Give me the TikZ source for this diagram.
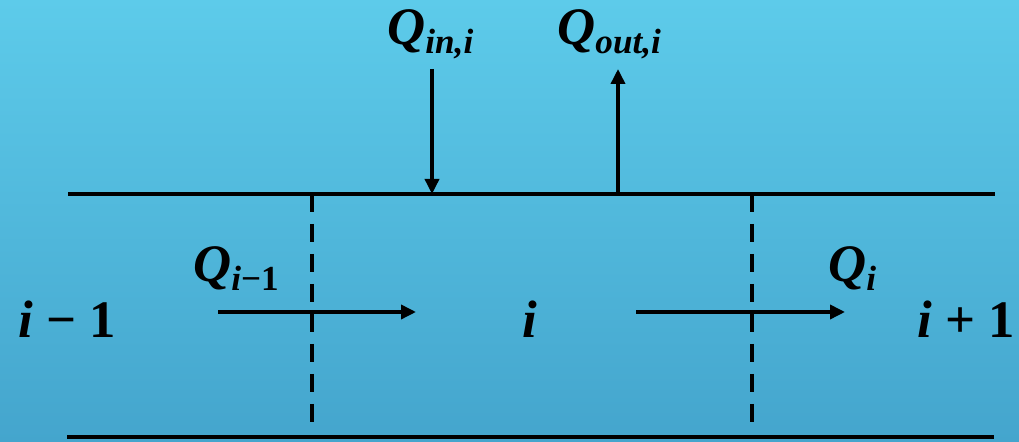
\documentclass[tikz,border=0pt]{standalone}
\usepackage{fontspec}
\setmainfont{Liberation Serif}
\usetikzlibrary{arrows.meta}
\definecolor{skytop}{HTML}{5DCBEA}
\definecolor{skybottom}{HTML}{44A5CD}
% lowered, smaller text for the subscripts
\newcommand{\lowtxt}[1]{\raisebox{-0.34ex}{\fontsize{20}{22}\selectfont #1}}
\tikzset{
  wall/.style={line width=2.4pt, black},
  cell border/.style={line width=2.3pt, black, dash pattern=on 0.36cm off 0.24cm},
  flow/.style={-{Triangle[length=0.3cm, width=0.28cm]}, line width=2pt, black},
  qlabel/.style={font=\fontsize{30}{32}\selectfont\bfseries\itshape, inner sep=0pt, anchor=base west},
  cell label/.style={font=\fontsize{30}{32}\selectfont\bfseries, inner sep=0pt, anchor=base}
}
\begin{document}
\begin{tikzpicture}

  %% ---- background ----
  \fill[top color=skytop, bottom color=skybottom] (0,0) rectangle (20.38,8.84);

  %% ---- pipe walls ----
  \coordinate (TL) at (1.36, 4.96);
  \coordinate (TR) at (19.90, 4.96);
  \coordinate (BL) at (1.34, 0.10);
  \coordinate (BR) at (19.88, 0.10);
  \draw[wall] (TL) -- (TR);
  \draw[wall] (BL) -- (BR);

  %% ---- cell borders (dashed) ----
  \coordinate (D1t) at (6.24, 4.96);
  \coordinate (D1b) at (6.24, 0.32);
  \coordinate (D2t) at (15.04, 4.96);
  \coordinate (D2b) at (15.04, 0.32);
  \draw[cell border] (D1t) -- (D1b);
  \draw[cell border] (D2t) -- (D2b);

  %% ---- lateral in/out flows ----
  \node[qlabel] (Qin)  at (7.74, 7.94) {Q\lowtxt{in,i}};
  \node[qlabel] (Qout) at (11.14, 7.94) {Q\lowtxt{out,i}};
  \coordinate (inTop)  at (8.64, 7.46);
  \coordinate (inBot)  at (8.64, 4.96);
  \coordinate (outBot) at (12.36, 4.96);
  \coordinate (outTop) at (12.36, 7.46);
  \draw[flow] (inTop) -- (inBot);
  \draw[flow] (outBot) -- (outTop);

  %% ---- axial flows ----
  \node[qlabel] (Qprev) at (3.86, 3.20) {Q\lowtxt{i{\upshape\textminus 1}}};
  \node[qlabel] (Qcur)  at (16.56, 3.20) {Q\lowtxt{i}};
  \coordinate (fl1a) at (4.36, 2.60);
  \coordinate (fl1b) at (8.32, 2.60);
  \coordinate (fl2a) at (12.72, 2.60);
  \coordinate (fl2b) at (16.90, 2.60);
  \draw[flow] (fl1a) -- (fl1b);
  \draw[flow] (fl2a) -- (fl2b);

  %% ---- cell indices ----
  \node[cell label, anchor=base west] (cprev) at (0.36, 2.08) {\itshape i\upshape\ \textminus\ 1};
  \node[cell label] (ccur) at (10.60, 2.08) {\itshape i};
  \node[cell label, anchor=base east] (cnext) at (20.30, 2.08) {\itshape i\upshape\ + 1};

\end{tikzpicture}
\end{document}
